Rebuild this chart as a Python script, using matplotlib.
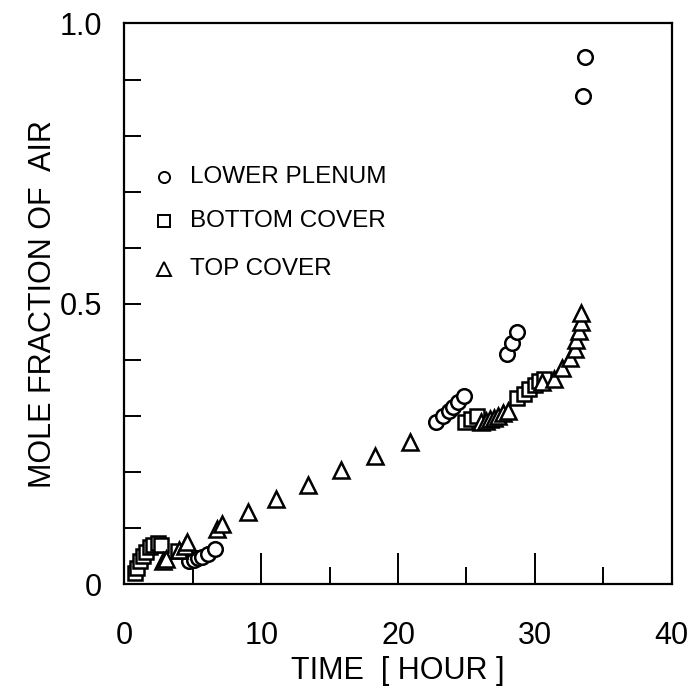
import matplotlib
matplotlib.use("Agg")
import matplotlib.pyplot as plt

# ---- data ----
plenum_t = [4.75, 5.1, 5.35, 5.7, 6.1, 6.6, 22.8, 23.3, 23.7, 24.0, 24.4, 24.8,
            28.0, 28.3, 28.7, 33.5, 33.7]
plenum_y = [0.041, 0.044, 0.047, 0.049, 0.055, 0.064, 0.29, 0.30, 0.31, 0.317,
            0.326, 0.336, 0.41, 0.43, 0.45, 0.87, 0.94]

bottom_t = [0.8, 0.95, 1.15, 1.35, 1.6, 1.85, 2.1, 2.45, 2.7, 3.9,
            24.9, 25.3, 25.8, 28.7, 29.2, 29.6, 30.0, 30.3, 30.7]
bottom_y = [0.02, 0.03, 0.042, 0.051, 0.058, 0.066, 0.071, 0.074, 0.071, 0.06,
            0.29, 0.295, 0.30, 0.333, 0.34, 0.348, 0.355, 0.362, 0.367]

top_t = [2.8, 3.05, 4.0, 4.4, 4.6, 6.75, 7.1, 9.0, 11.1, 13.4, 15.8, 18.3, 20.9,
         26.1, 26.4, 26.7, 27.0, 27.3, 27.7, 28.05, 30.5, 31.4, 32.0, 32.6,
         32.9, 33.0, 33.2, 33.4, 33.4]
top_y = [0.041, 0.046, 0.061, 0.069, 0.075, 0.099, 0.108, 0.13, 0.153, 0.178,
         0.204, 0.229, 0.254, 0.29, 0.292, 0.295, 0.297, 0.30, 0.305, 0.31,
         0.36, 0.366, 0.385, 0.404, 0.42, 0.436, 0.452, 0.468, 0.484]

series_labels = ["LOWER PLENUM", "BOTTOM COVER", "TOP COVER"]
x_ticks = [0, 10, 20, 30, 40]
y_ticks = [0, 0.5, 1.0]
y_tick_labels = ["0", "0.5", "1.0"]

plt.rcParams["font.family"] = ["Liberation Sans", "DejaVu Sans"]

fig = plt.figure(figsize=(6.91, 6.90), dpi=100)
ax = fig.add_axes([0.180, 0.153, 0.792, 0.813])

mk = dict(linestyle="none", markerfacecolor="white", markeredgecolor="black",
          markeredgewidth=1.8, color="black")
ax.plot(plenum_t, plenum_y, marker="o", markersize=10.5, **mk)
ax.plot(bottom_t, bottom_y, marker="s", markersize=9.5, **mk)
ax.plot(top_t, top_y, marker="^", markersize=11.5, **mk)

ax.set_xlim(0, 40)
ax.set_ylim(0, 1.0)
for s in ax.spines.values():
    s.set_linewidth(1.6)

ax.set_xticks(x_ticks)
ax.set_xticklabels([str(t) for t in x_ticks])
ax.set_xticks([5, 15, 25, 35], minor=True)
ax.set_yticks(y_ticks)
ax.set_yticklabels(y_tick_labels)
ax.set_yticks([0.1, 0.2, 0.3, 0.4, 0.6, 0.7, 0.8, 0.9], minor=True)
ax.tick_params(axis="both", which="both", direction="in", width=1.4,
               labelsize=22, top=False, right=False)
ax.tick_params(axis="x", which="major", length=22, pad=26)
ax.tick_params(axis="x", which="minor", length=12)
ax.tick_params(axis="y", which="major", length=12, pad=16)
ax.tick_params(axis="y", which="minor", length=12)

ax.set_xlabel("TIME  [ HOUR ]", fontsize=22, labelpad=4)
ax.set_ylabel("MOLE FRACTION OF  AIR", fontsize=22, labelpad=1)

# legend as a text block with markers
leg_x_mark = 2.86
leg_x_text = 4.8
leg_rows = [0.726, 0.648, 0.563]
leg_markers = ["o", "s", "^"]
leg_sizes = [8, 8, 10]
for yv, m, ms, lab in zip(leg_rows, leg_markers, leg_sizes, series_labels):
    ax.plot([leg_x_mark], [yv], marker=m, markersize=ms, linestyle="none",
            markerfacecolor="white", markeredgecolor="black", markeredgewidth=1.4)
    ax.text(leg_x_text, yv, lab, fontsize=17.5, va="center", ha="left")

fig.savefig("out.png", dpi=100)
